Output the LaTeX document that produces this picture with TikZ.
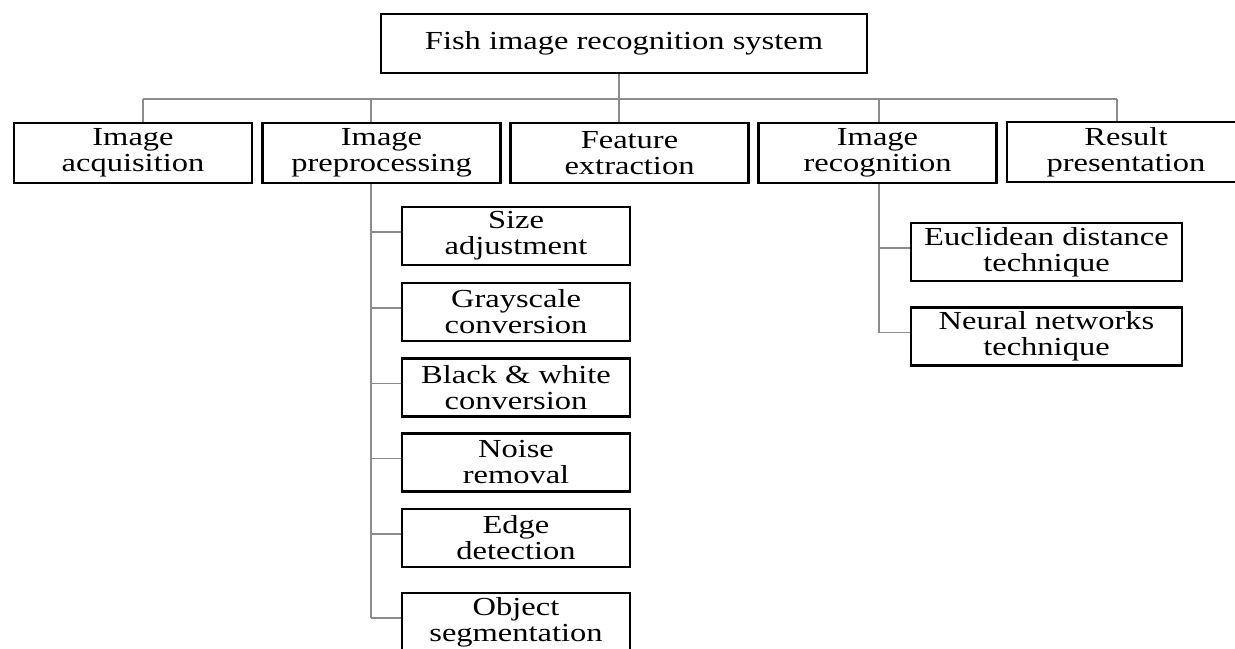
\documentclass[tikz,border=0pt]{standalone}
\usepackage{fontspec}
\setmainfont[FakeStretch=1.25]{Liberation Serif}
\usetikzlibrary{positioning}
\definecolor{linegray}{RGB}{140,140,140}
\tikzset{%
	box/.style    = {draw, line width=1.2pt, rectangle, align=center, inner sep=0pt,
		minimum height=30pt, minimum width=119pt}, % Main steps
	subbox/.style = {box, minimum height=29pt, minimum width=114pt}, % Preprocessing steps
	techbox/.style = {box, minimum height=29pt, minimum width=135.5pt}, % Recognition techniques
	link/.style   = {draw=linegray, line width=0.75pt} % Connector
}

\begin{document}
\begin{tikzpicture}[x=0.5pt,y=-0.5pt,font=\fontsize{13}{13}\selectfont]
	\useasboundingbox (0,0) rectangle (1235,648);

	\node[box, minimum width=243pt, minimum height=29.5pt] (sys) at (624,43.5) {Fish image recognition system};

	\node[box] (acq)   at (133,153)  {Image\\acquisition};
	\node[box] (prep)  at (381.5,153) {Image\\preprocessing};
	\node[box] (feat)  at (629.5,153) {Feature\\extraction};
	\node[box] (recog) at (877.5,153) {Image\\recognition};
	\node[box] (res)   at (1126,152) {Result\\presentation};

	\node[subbox] (size)  at (516,236)   {Size\\adjustment};
	\node[subbox] (gray)  at (516,312)   {Grayscale\\conversion};
	\node[subbox] (bw)    at (516,387.5) {Black \& white\\conversion};
	\node[subbox] (noise) at (516,462.5) {Noise\\removal};
	\node[subbox] (edge)  at (516,538)   {Edge\\detection};
	\node[subbox] (seg)   at (516,622)   {Object\\segmentation};

	\node[techbox] (eucl)  at (1046.5,252)   {Euclidean distance\\technique};
	\node[techbox] (neural) at (1046.5,336.5) {Neural networks\\technique};

	\coordinate (b1) at (143,99);
	\coordinate (b2) at (371,99);
	\coordinate (b3) at (619,99);
	\coordinate (b4) at (879,99);
	\coordinate (b5) at (1117,99);

	\draw[link] (b1) -- (b5);
	\draw[link] (b3 |- sys.south) -- (b3);
	\draw[link] (b1) -- (b1 |- acq.north);
	\draw[link] (b2) -- (b2 |- prep.north);
	\draw[link] (b3) -- (b3 |- feat.north);
	\draw[link] (b4) -- (b4 |- recog.north);
	\draw[link] (b5) -- (b5 |- res.north);

	% preprocessing branch
	\draw[link] (b2 |- prep.south) -- ([yshift=2pt]seg.west -| b2);
	\foreach \n in {size,gray,bw,noise,edge,seg}
		\draw[link] ([yshift=2pt]\n.west -| b2) -- ([yshift=2pt]\n.west);

	% recognition branch
	\draw[link] (b4 |- recog.south) -- ([yshift=2pt]neural.west -| b4);
	\foreach \n in {eucl,neural}
		\draw[link] ([yshift=2pt]\n.west -| b4) -- ([yshift=2pt]\n.west);
\end{tikzpicture}
\end{document}
